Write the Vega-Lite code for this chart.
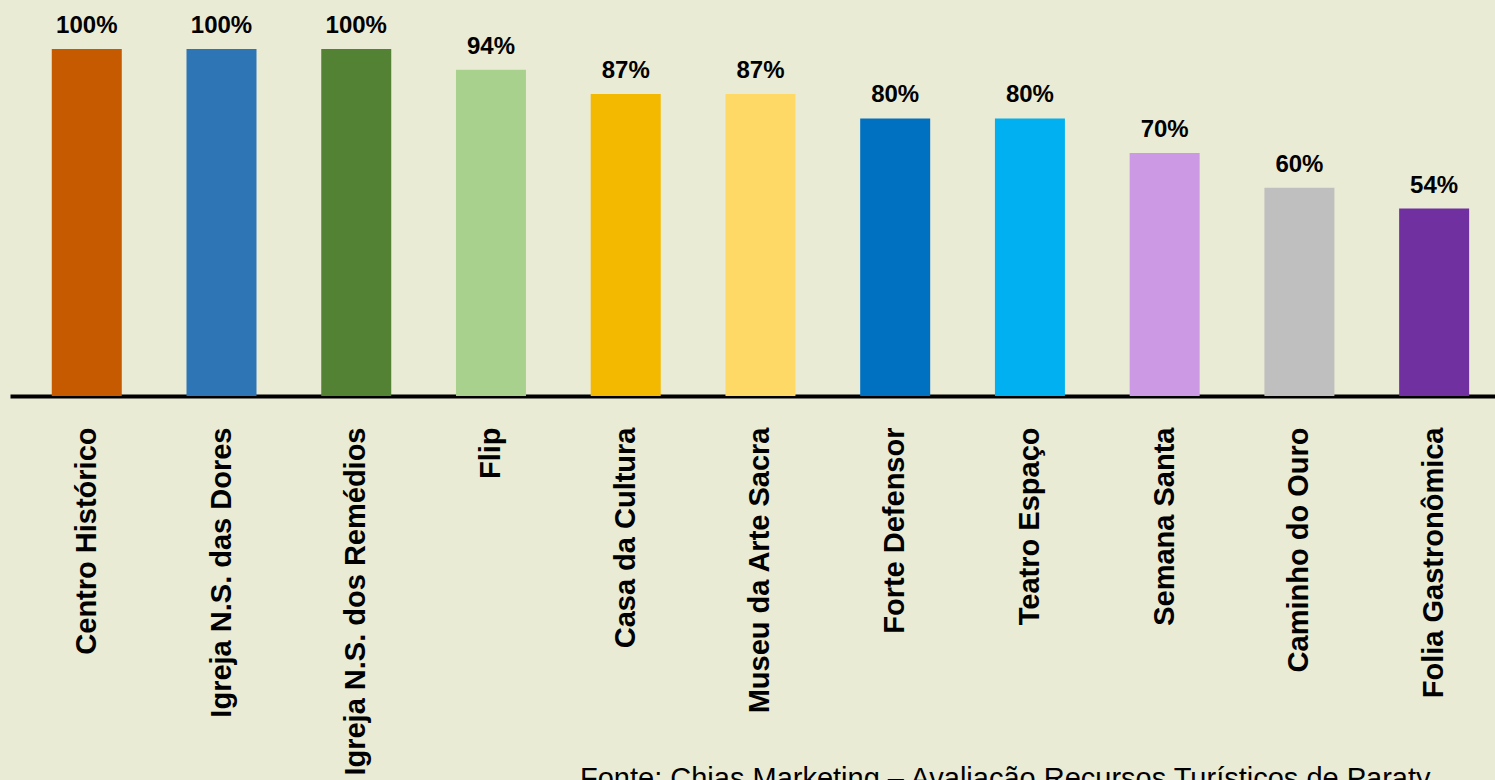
{
  "$schema": "https://vega.github.io/schema/vega-lite/v6.json",
  "autosize": {"type": "none"},
  "padding": {"left": 10, "top": 49, "right": 0, "bottom": 384},
  "width": 1485,
  "height": 347,
  "background": "#EAEBD5",
  "config": {"view": {"stroke": null}, "font": "Liberation Sans"},
  "title": {
    "text": "Fonte: Chias Marketing – Avaliação Recursos Turísticos de Paraty",
    "orient": "bottom",
    "anchor": "start",
    "frame": "group",
    "dx": 570,
    "offset": -10,
    "font": "Liberation Sans",
    "fontSize": 29,
    "fontWeight": "normal",
    "color": "#000000",
    "baseline": "top"
  },
  "data": {
    "values": [
      {"atrativo": "Centro Histórico", "valor": 1.00},
      {"atrativo": "Igreja N.S. das Dores", "valor": 1.00},
      {"atrativo": "Igreja N.S. dos Remédios", "valor": 1.00},
      {"atrativo": "Flip", "valor": 0.94},
      {"atrativo": "Casa da Cultura", "valor": 0.87},
      {"atrativo": "Museu da Arte Sacra", "valor": 0.87},
      {"atrativo": "Forte Defensor", "valor": 0.80},
      {"atrativo": "Teatro Espaço", "valor": 0.80},
      {"atrativo": "Semana Santa", "valor": 0.70},
      {"atrativo": "Caminho do Ouro", "valor": 0.60},
      {"atrativo": "Folia Gastronômica", "valor": 0.54}
    ]
  },
  "encoding": {
    "x": {
      "field": "atrativo",
      "type": "nominal",
      "sort": null,
      "scale": {"paddingInner": 0.4805, "paddingOuter": 0.251, "align": 0.6176},
      "axis": {
        "title": null,
        "domain": true,
        "domainColor": "#000000",
        "domainWidth": 4,
        "ticks": false,
        "tickSize": 0,
        "labelAngle": -90,
        "labelFont": "Liberation Sans",
        "labelFontSize": 29,
        "labelFontWeight": "bold",
        "labelColor": "#000000",
        "labelPadding": 31,
        "labelLimit": 600,
        "labelOverlap": false
      }
    },
    "y": {
      "field": "valor",
      "type": "quantitative",
      "scale": {"domain": [0, 1], "nice": false},
      "axis": null
    }
  },
  "layer": [
    {
      "mark": {"type": "bar"},
      "encoding": {
        "color": {
          "field": "atrativo",
          "type": "nominal",
          "legend": null,
          "scale": {
            "domain": ["Centro Histórico", "Igreja N.S. das Dores", "Igreja N.S. dos Remédios", "Flip", "Casa da Cultura", "Museu da Arte Sacra", "Forte Defensor", "Teatro Espaço", "Semana Santa", "Caminho do Ouro", "Folia Gastronômica"],
            "range": ["#C55A00", "#2E75B6", "#548235", "#A9D18E", "#F3B800", "#FFD966", "#0070C0", "#00B0F0", "#CC99E4", "#BFBFBF", "#7030A0"]
          }
        }
      }
    },
    {
      "mark": {"type": "text", "baseline": "alphabetic", "dy": -16, "fontSize": 24, "fontWeight": "bold", "font": "Liberation Sans", "color": "#000000"},
      "encoding": {
        "text": {"field": "valor", "type": "quantitative", "format": ".0%"}
      }
    }
  ]
}
